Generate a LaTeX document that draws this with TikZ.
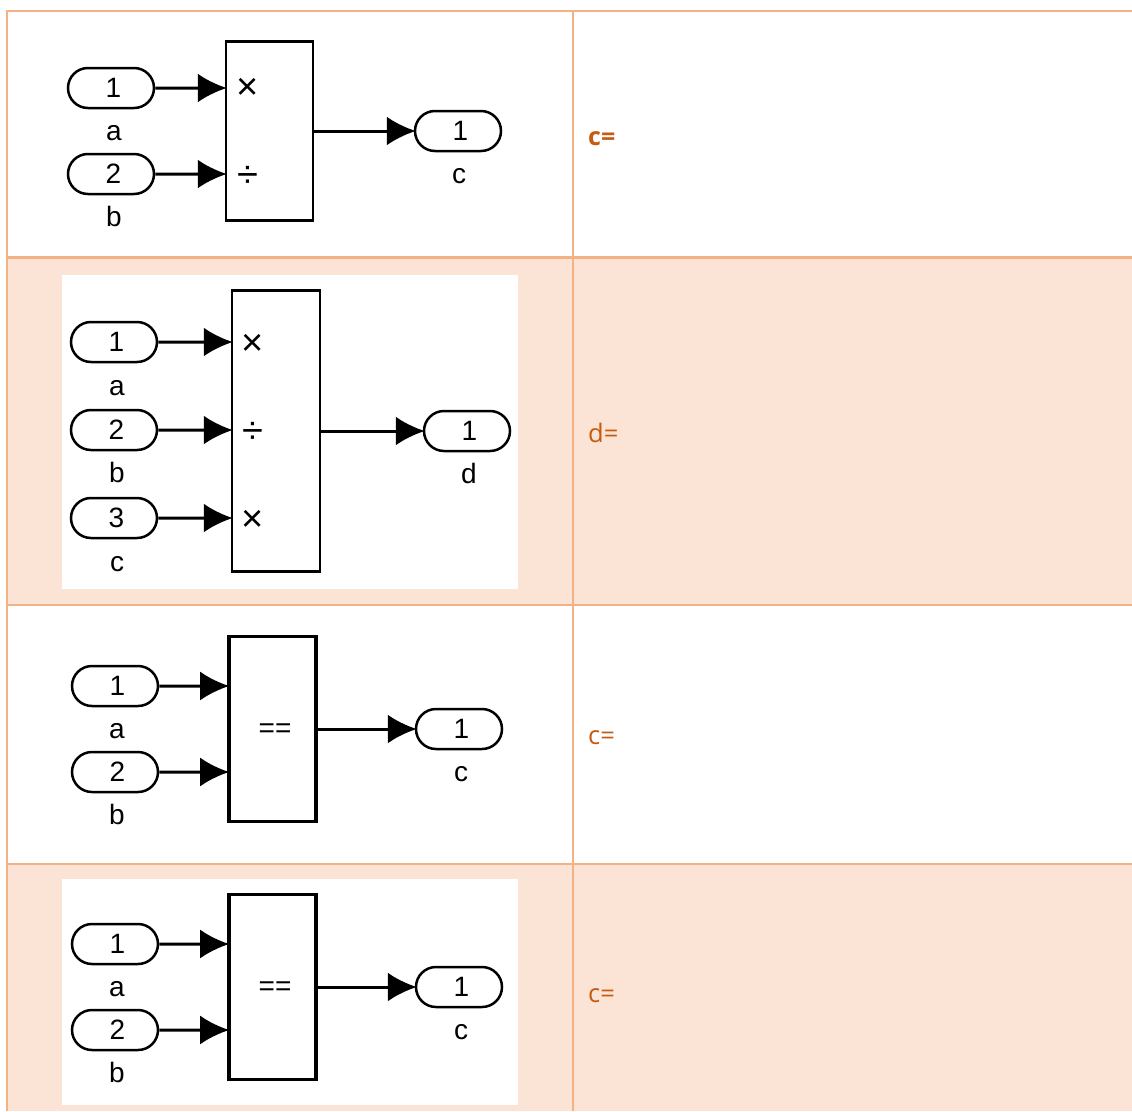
\documentclass[tikz,border=0pt]{standalone}
\usepackage{fontspec}
\setmainfont{Liberation Sans}
\newfontfamily\cellfont{Open Sans}
\usepackage{xcolor}
\usetikzlibrary{arrows.meta}
\usetikzlibrary{shapes.misc}
\definecolor{rowline}{HTML}{F4B183}
\definecolor{rowfill}{HTML}{FBE4D5}
\definecolor{celltext}{HTML}{C55A11}
\tikzset{
    port/.style = {draw, line width = 2.5pt, rounded rectangle, minimum width = 86pt, minimum height = 40pt, inner sep = 0pt, font = \fontsize{28}{28}\selectfont, execute at begin node = {\hspace{5pt}}},
    portname/.style = {inner sep = 0pt, anchor = base, font = \fontsize{28}{28}\selectfont},
    block/.style = {draw, line width = 2.5pt},
    blockthick/.style = {draw, line width = 3.6pt},
    sign/.style = {inner sep = 0pt, font = \fontsize{38}{38}\selectfont},
    wire/.style = {line width = 3pt, shorten > = -2pt, -{Latex[length = 29pt, width = 29pt]}},
    cell/.style = {inner sep = 0pt, anchor = west, text = celltext, font = \cellfont\fontsize{25.5}{25.5}\selectfont}
}

\begin{document}
\begin{tikzpicture}[x = 1pt, y = -1pt]
        \useasboundingbox (0, 0) rectangle (1132, 1111);
        \fill[white] (0, 0) rectangle (1132, 1111);
        % table
        \fill[rowfill] (7, 257) rectangle (1132, 605);
        \fill[rowfill] (7, 864) rectangle (1132, 1111);
        \fill[white] (62, 275) rectangle (518, 589);
        \fill[white] (62, 879) rectangle (518, 1105);
        \draw[rowline, line width = 2pt] (1132, 11) -- (7, 11) -- (7, 1111);
        \draw[rowline, line width = 2pt] (573, 11) -- (573, 1111);
        \draw[rowline, line width = 3pt] (7, 257) -- (1132, 257);
        \draw[rowline, line width = 2pt] (7, 605) -- (1132, 605);
        \draw[rowline, line width = 2pt] (7, 864) -- (1132, 864);
        \node[cell, font = \cellfont\bfseries\fontsize{25}{25}\selectfont] (textone) at (588, 139) {c=};
        \node[cell] (texttwo) at (588, 432.5) {d=};
        \node[cell] (textthree) at (588, 737.5) {c=};
        \node[cell] (textfour) at (588, 995.5) {c=};

        % first row
        \node[port] (ina1) at (111, 88) {1};
        \node[port] (inb1) at (111, 174) {2};
        \node[port] (out1) at (458, 131) {1};
        \node[portname] (namea1) at (114, 140) {a};
        \node[portname] (nameb1) at (114, 226) {b};
        \node[portname] (namec1) at (459, 183.5) {c};
        \node[block, minimum width = 87pt, minimum height = 179pt] (prod1) at (269.5, 131) {};
        \node[sign] (signa1) at (247.5, 89) {×};
        \node[sign] (signb1) at (247.5, 177) {÷};
        \draw[wire] (ina1) -- (ina1 -| prod1.west);
        \draw[wire] (inb1) -- (inb1 -| prod1.west);
        \draw[wire] (prod1) -- (out1);

        % second row
        \node[port] (ina2) at (114, 342) {1};
        \node[port] (inb2) at (114, 430) {2};
        \node[port] (inc2) at (114, 518) {3};
        \node[port] (out2) at (467, 431) {1};
        \node[portname] (namea2) at (117, 395) {a};
        \node[portname] (nameb2) at (117, 482.5) {b};
        \node[portname] (namec2) at (117, 571) {c};
        \node[portname] (named2) at (469, 483) {d};
        \node[block, minimum width = 88pt, minimum height = 281pt] (prod2) at (276, 431) {};
        \node[sign] (signa2) at (252.5, 345) {×};
        \node[sign] (signb2) at (252.5, 433) {÷};
        \node[sign] (signc2) at (252.5, 521) {×};
        \draw[wire] (ina2) -- (ina2 -| prod2.west);
        \draw[wire] (inb2) -- (inb2 -| prod2.west);
        \draw[wire] (inc2) -- (inc2 -| prod2.west);
        \draw[wire] (prod2) -- (out2);

        % third row
        \node[port] (ina3) at (115, 686) {1};
        \node[port] (inb3) at (115, 772) {2};
        \node[port] (out3) at (459, 729) {1};
        \node[portname] (namea3) at (117, 738) {a};
        \node[portname] (nameb3) at (117, 824) {b};
        \node[portname] (namec3) at (461, 781.5) {c};
        \node[blockthick, minimum width = 87pt, minimum height = 185pt] (equal3) at (272.5, 729) {};
        \node[portname, anchor = center] (signe3) at (275, 731) {==};
        \draw[wire] (ina3) -- (ina3 -| equal3.west);
        \draw[wire] (inb3) -- (inb3 -| equal3.west);
        \draw[wire] (equal3) -- (out3);

        % fourth row
        \node[port] (ina4) at (115, 944) {1};
        \node[port] (inb4) at (115, 1030) {2};
        \node[port] (out4) at (459, 987) {1};
        \node[portname] (namea4) at (117, 996) {a};
        \node[portname] (nameb4) at (117, 1082) {b};
        \node[portname] (namec4) at (461, 1039.5) {c};
        \node[blockthick, minimum width = 87pt, minimum height = 185pt] (equal4) at (272.5, 987) {};
        \node[portname, anchor = center] (signe4) at (275, 989) {==};
        \draw[wire] (ina4) -- (ina4 -| equal4.west);
        \draw[wire] (inb4) -- (inb4 -| equal4.west);
        \draw[wire] (equal4) -- (out4);
    \end{tikzpicture}
\end{document}
